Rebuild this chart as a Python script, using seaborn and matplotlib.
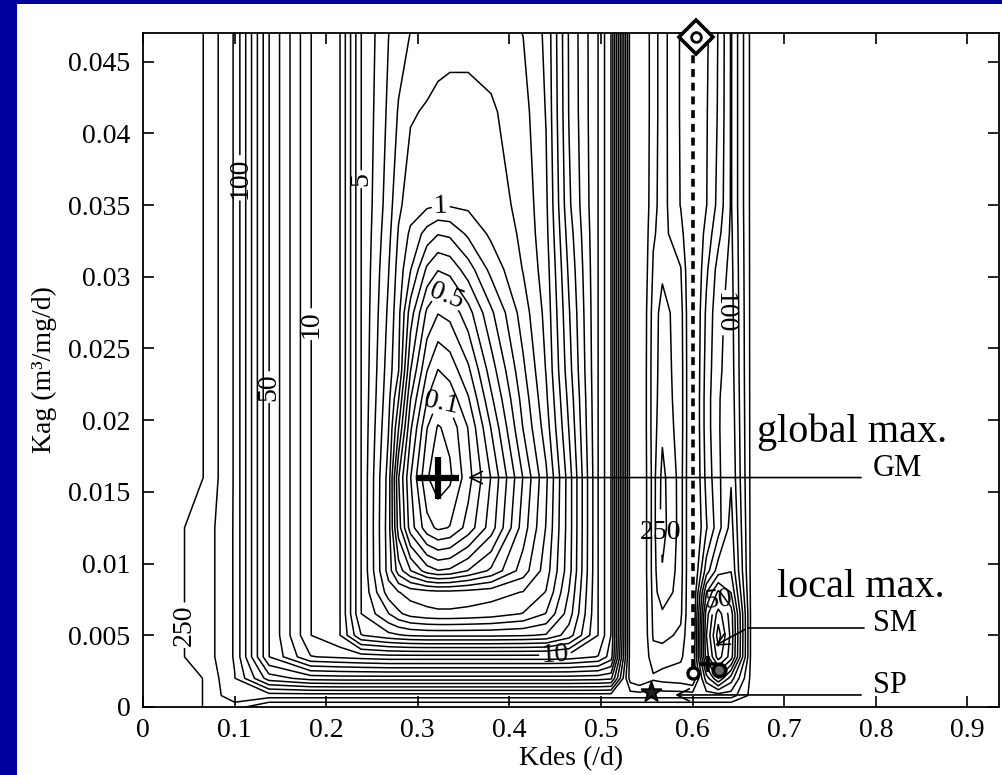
import numpy as np
import matplotlib
matplotlib.use("Agg")
import matplotlib.pyplot as plt
from matplotlib.patches import Rectangle
import seaborn as sns

# ---------------- data ----------------
kdes_nodes = [0.000, 0.040, 0.0666, 0.100, 0.1375, 0.183, 0.215, 0.238, 0.268, 0.279,
              0.292, 0.310, 0.322, 0.335, 0.355, 0.380, 0.415, 0.440, 0.465, 0.497,
              0.511, 0.532, 0.542, 0.557, 0.567, 0.587, 0.600, 0.615, 0.628, 0.642,
              0.664, 0.700, 0.950]
kag_nodes = [0.0, 0.0008, 0.002, 0.0035, 0.005, 0.0065, 0.008, 0.0095, 0.0125, 0.016,
             0.0195, 0.0215, 0.0235, 0.0275, 0.0305, 0.033, 0.035, 0.0415, 0.047]

# contour levels of the objective
level_values = [0.05, 0.1, 0.2, 0.3, 0.4, 0.5, 0.6, 0.7, 0.8, 0.9, 1, 1.5, 2, 3, 4, 5,
                6, 7, 8, 9, 10, 20, 30, 40, 50, 60, 70, 80, 90, 100, 150, 200, 250]

# surface estimated at each node, expressed as position in the level list
# (one row per Kag node, bottom to top; one column per Kdes node)
surface_rows = [
    [35, 33.5, 31.9, 31.5, 33.05, 33.05, 33.05, 33.05, 33.05, 33.05, 33.05, 33.05, 33.05, 33.05, 33.05, 33.05, 33.05, 33.05, 33.05, 33.05, 33.05, 33.05, 33.05, 33.05, 33.05, 33.05, 33.05, 33.05, 33.05, 33.05, 33.05, 34, 34],
    [35, 33.5, 31.9, 30.3, 30.5, 30.5, 30.5, 30.5, 30.5, 30.5, 30.5, 30.5, 30.5, 30.5, 30.5, 30.5, 30.5, 30.5, 30.5, 30.5, 30.5, 30.5, 30.5, 30.5, 30.5, 30.5, 30.5, 30.5, 30.5, 30.5, 32.3, 34, 34],
    [35, 33.5, 31.9, 30.05, 26.5, 25.6, 25.5, 25.5, 25.5, 25.5, 25.5, 25.5, 25.5, 25.5, 25.5, 25.5, 25.5, 25.5, 25.5, 25.6, 25.8, 32.5, 33.05, 32.2, 32.4, 32.6, 33.05, 28.5, 26.05, 28.5, 32.3, 34, 34],
    [35, 32.1, 31.6, 29.9, 24.02, 21.05, 20.8, 20.6, 20.4, 20.4, 20.4, 20.4, 20.4, 20.4, 20.4, 20.4, 20.4, 20.4, 20.5, 21.05, 22.5, 32.5, 33.5, 31.3, 31.5, 31.8, 33.05, 25.5, 22.5, 24.5, 32.3, 34, 34],
    [35, 32.1, 31.6, 29.9, 24.02, 20.02, 19.02, 16.05, 15.3, 15.1, 14.9, 14.8, 14.8, 14.8, 14.8, 14.8, 14.9, 15.1, 16.5, 20.02, 22.02, 32.5, 33.5, 30.9, 30.7, 31.2, 33.5, 25.05, 21.5, 24.3, 32.3, 34, 34],
    [35, 32.1, 31.6, 29.9, 24.02, 20.02, 19.02, 15.02, 13.05, 12.2, 11.6, 11.3, 11.2, 11.2, 11.3, 11.5, 12.05, 13.05, 15.5, 20.02, 22.02, 32.5, 33.5, 30.8, 30.9, 30.8, 33.5, 25.5, 22.5, 24.5, 32.3, 34, 34],
    [35, 32.1, 31.6, 29.9, 24.02, 20.02, 19.02, 15.02, 11.5, 11.05, 10.6, 10.4, 10.3, 10.3, 10.4, 10.6, 11.05, 12.05, 15.05, 20.02, 22.02, 32.5, 33.5, 30.7, 31.4, 30.7, 33.5, 27.05, 24.8, 26.05, 32.3, 34, 34],
    [35, 32.1, 31.6, 29.9, 24.02, 20.02, 19.02, 15.02, 10.6, 8.5, 7.05, 5.5, 5.05, 5.2, 6.05, 7.2, 9.5, 11.5, 14.6, 20.02, 22.02, 32.5, 33.5, 30.6, 31.9, 30.6, 33.5, 29.5, 27.5, 27.05, 32.3, 34, 34],
    [35, 32.1, 31.6, 29.9, 24.02, 20.02, 19.02, 15.02, 10.5, 6.5, 3.5, 1.4, 0.8, 1.05, 2.4, 4.5, 8.5, 11.05, 14.5, 20.02, 22.02, 32.5, 33.5, 30.6, 32.4, 30.6, 33.5, 31.1, 29.4, 27.6, 32.3, 34, 34],
    [35, 33.5, 31.95, 29.9, 24.02, 20.02, 19.02, 15.02, 10.6, 6.05, 3.05, 0.1, -0.6, -0.2, 1.6, 4.05, 8.05, 10.8, 14.5, 20.02, 22.02, 32.5, 33.5, 30.6, 32.3, 30.6, 33.5, 30.7, 29.2, 28.1, 32.3, 34, 34],
    [35, 33.5, 31.95, 29.9, 24.02, 20.02, 19.02, 15.02, 11.05, 8.05, 4.2, 1.05, -0.1, 0.3, 2.05, 5.05, 9.05, 11.5, 15.05, 20.02, 22.02, 32.5, 33.5, 30.5, 31.8, 30.5, 33.5, 30.5, 29.1, 28.3, 32.3, 34, 34],
    [35, 33.5, 31.95, 29.9, 24.02, 20.02, 19.02, 15.02, 11.3, 9.05, 5.05, 2.05, 1.05, 1.4, 2.9, 5.8, 9.4, 11.8, 15.3, 20.02, 22.02, 32.5, 33.5, 30.5, 31.6, 30.5, 33.5, 30.5, 29.1, 28.4, 32.3, 34, 34],
    [35, 33.5, 31.95, 29.9, 24.02, 20.02, 19.02, 15.02, 11.5, 10.05, 6.05, 3.05, 1.98, 2.4, 3.8, 6.5, 9.8, 12.05, 15.6, 20.02, 22.02, 32.5, 33.5, 30.5, 31.5, 30.5, 33.5, 30.6, 29.2, 28.5, 32.3, 34, 34],
    [35, 33.5, 31.95, 29.9, 24.02, 20.02, 19.02, 15.02, 11.8, 10.3, 7.5, 4.8, 4.05, 4.3, 5.6, 7.8, 10.5, 12.3, 15.9, 20.02, 22.02, 32.5, 33.5, 30.6, 31.3, 30.6, 33.5, 30.8, 29.3, 28.6, 32.3, 34, 34],
    [35, 33.5, 31.95, 29.9, 24.02, 20.02, 19.02, 15.02, 12.05, 10.6, 9.05, 6.8, 6.05, 6.3, 7.5, 9.3, 11.05, 12.5, 16.2, 20.02, 22.02, 32.5, 33.5, 30.9, 30.85, 30.95, 33.5, 31.2, 29.6, 28.7, 32.3, 34, 34],
    [35, 33.5, 31.95, 29.9, 24.02, 20.02, 19.02, 15.02, 12.3, 10.9, 9.8, 8.6, 8.05, 8.2, 9.2, 10.2, 11.2, 12.7, 16.5, 20.02, 22.02, 32.5, 33.5, 31.1, 30.7, 31.6, 33.5, 31.6, 30.3, 28.8, 32.3, 34, 34],
    [35, 33.5, 31.95, 29.9, 24.02, 20.02, 19.02, 15.02, 12.5, 11.2, 10.5, 10.2, 10.05, 10.1, 10.2, 10.5, 11.3, 12.8, 16.8, 20.02, 22.02, 32.5, 33.5, 31.3, 30.6, 32.05, 33.5, 32.05, 30.7, 28.9, 32.3, 34, 34],
    [35, 33.5, 31.95, 29.9, 24.02, 20.02, 19.02, 15.02, 12.8, 11.9, 11.1, 10.9, 10.75, 10.7, 10.7, 10.85, 11.6, 13.05, 17.05, 20.02, 22.02, 32.5, 33.5, 31.4, 30.6, 32.1, 33.5, 32.1, 30.9, 28.9, 32.3, 34, 34],
    [35, 33.5, 31.95, 29.9, 24.02, 20.02, 19.02, 15.02, 13.02, 12.5, 11.98, 11.6, 11.4, 11.3, 11.3, 11.5, 12.02, 13.2, 17.1, 20.02, 22.02, 32.5, 33.5, 31.4, 30.6, 32.1, 33.5, 32.2, 30.95, 28.9, 32.3, 34, 34],
]

# inline contour labels: anchor points (Kdes, Kag) lying on the labelled contour,
# and the text angle seen in the picture (None = follow the contour)
label_kdes = [0.0453, 0.1057, 0.1377, 0.1833, 0.2382, 0.325, 0.331, 0.326, 0.45, 0.5648, 0.634, 0.628]
label_kag = [0.0057, 0.0369, 0.0223, 0.0267, 0.0368, 0.03495, 0.0287, 0.0212, 0.00363, 0.0122, 0.0275, 0.0075]
label_angle = [90, 90, 90, 90, 90, None, None, None, None, 0, -90, None]

# special points
gm_point = (0.322, 0.016)
sp_point = (0.555, 0.00105)
sm_circle_a = (0.600, 0.0024)
sm_plus = (0.617, 0.0030)
sm_circle_b = (0.629, 0.0026)
top_diamond = (0.6035, 0.0467)
boundary_kdes = [0.6, 0.6]
boundary_kag = [0.0028, 0.0462]

# annotation pointers
gm_arrow = dict(start=(0.787, 0.016), tip=(0.352, 0.016))
sm_line = dict(start=(0.787, 0.0055), bend=(0.660, 0.0055), tip=(0.622, 0.0042))
sp_arrow = dict(start=(0.787, 0.00084), tip=(0.578, 0.00084))
side_names = ["GM", "SM", "SP"]
side_kdes = [0.797, 0.797, 0.797]
side_kag = [0.0166, 0.00585, 0.0015]
notes = ["global max.", "local max."]
note_kdes = [0.670, 0.692]
note_kag = [0.0185, 0.0077]

x_ticks = [0, 0.1, 0.2, 0.3, 0.4, 0.5, 0.6, 0.7, 0.8, 0.9]
x_tick_labels = ["0", "0.1", "0.2", "0.3", "0.4", "0.5", "0.6", "0.7", "0.8", "0.9"]
y_ticks = [0, 0.005, 0.01, 0.015, 0.02, 0.025, 0.03, 0.035, 0.04, 0.045]
y_tick_labels = ["0", "0.005", "0.01", "0.015", "0.02", "0.025", "0.03", "0.035", "0.04", "0.045"]

# ---------------- styling ----------------
sns.set_theme(style="ticks")
plt.rcParams["font.family"] = ["Liberation Serif", "DejaVu Serif"]
plt.rcParams["axes.linewidth"] = 1.3

fig = plt.figure(figsize=(10.02, 7.75), dpi=100, facecolor="#00009C")
fig.patches.append(Rectangle((17 / 1002, 0), 985 / 1002, 771 / 775, transform=fig.transFigure,
                             facecolor="white", edgecolor="none", zorder=-10))
ax = fig.add_axes([143 / 1002, 68 / 775, 856 / 1002, 674 / 775])
ax.set_facecolor("white")

X, Y = np.meshgrid(np.array(kdes_nodes), np.array(kag_nodes))
Z = np.array(surface_rows, dtype=float)
level_idx = list(range(len(level_values)))
cs = ax.contour(X, Y, Z, levels=level_idx, colors="black", linewidths=1.1)


def fmt_level(v):
    return "%g" % level_values[int(round(v))]


texts = ax.clabel(cs, manual=list(zip(label_kdes, label_kag)), inline=True, inline_spacing=2,
                  fmt=fmt_level, fontsize=20)
for t, ang in zip(texts, label_angle):
    if ang is not None:
        t.set_rotation(ang)

# boundary (dashed) and special points
ax.plot(boundary_kdes, boundary_kag, color="black", lw=2.6, ls=(0, (2.2, 1.6)), zorder=4)
ax.plot(*top_diamond, marker="D", ms=17, mfc="white", mec="black", mew=2.6, clip_on=False, zorder=6)
ax.plot(*top_diamond, marker="o", ms=7, mfc="white", mec="black", mew=2.0, clip_on=False, zorder=7)
ax.plot(*gm_point, marker="+", ms=30, mew=4.5, color="black", zorder=6)
sns.scatterplot(x=[sp_point[0]], y=[sp_point[1]], marker="*", s=220, color="#222222",
                edgecolor="black", linewidth=1.5, ax=ax, zorder=6)
ax.plot(*sm_circle_a, marker="o", ms=8, mfc="white", mec="black", mew=2.4, zorder=6)
ax.plot(*sm_plus, marker="+", ms=11, mew=2.6, color="black", zorder=6)
ax.plot(*sm_circle_b, marker="o", ms=9, mfc="#666666", mec="black", mew=2.6, zorder=6)

arrow_kw = dict(arrowstyle="->", lw=1.2, color="black", mutation_scale=22)
ax.annotate("", xy=gm_arrow["tip"], xytext=gm_arrow["start"], arrowprops=arrow_kw, zorder=5)
ax.plot([sm_line["start"][0], sm_line["bend"][0]], [sm_line["start"][1], sm_line["bend"][1]],
        color="black", lw=1.2)
ax.annotate("", xy=sm_line["tip"], xytext=sm_line["bend"], arrowprops=arrow_kw, zorder=5)
ax.annotate("", xy=sp_arrow["tip"], xytext=sp_arrow["start"], arrowprops=arrow_kw, zorder=5)

for name, nx, ny in zip(side_names, side_kdes, side_kag):
    ax.text(nx, ny, name, fontsize=22, ha="left", va="center", color="black")
for note, nx, ny in zip(notes, note_kdes, note_kag):
    ax.text(nx, ny, note, fontsize=29, ha="left", va="baseline", color="black")

ax.set_xlim(0, 856 / 916)
ax.set_ylim(0, 0.047)
ax.set_xticks(x_ticks)
ax.set_xticklabels(x_tick_labels)
ax.set_yticks(y_ticks)
ax.set_yticklabels(y_tick_labels)
ax.tick_params(direction="in", length=8, width=1.2, top=True, right=True,
               labelsize=20, colors="black")
ax.tick_params(axis="x", pad=8)
ax.tick_params(axis="y", pad=9)
for s in ax.spines.values():
    s.set_color("black")
    s.set_visible(True)
ax.set_xlabel("Kdes (/d)", fontsize=20, labelpad=2, color="black")
ax.set_ylabel("Kag (m³/mg/d)", fontsize=20, labelpad=8, color="black")

fig.savefig("out.png", dpi=100, facecolor=fig.get_facecolor())
